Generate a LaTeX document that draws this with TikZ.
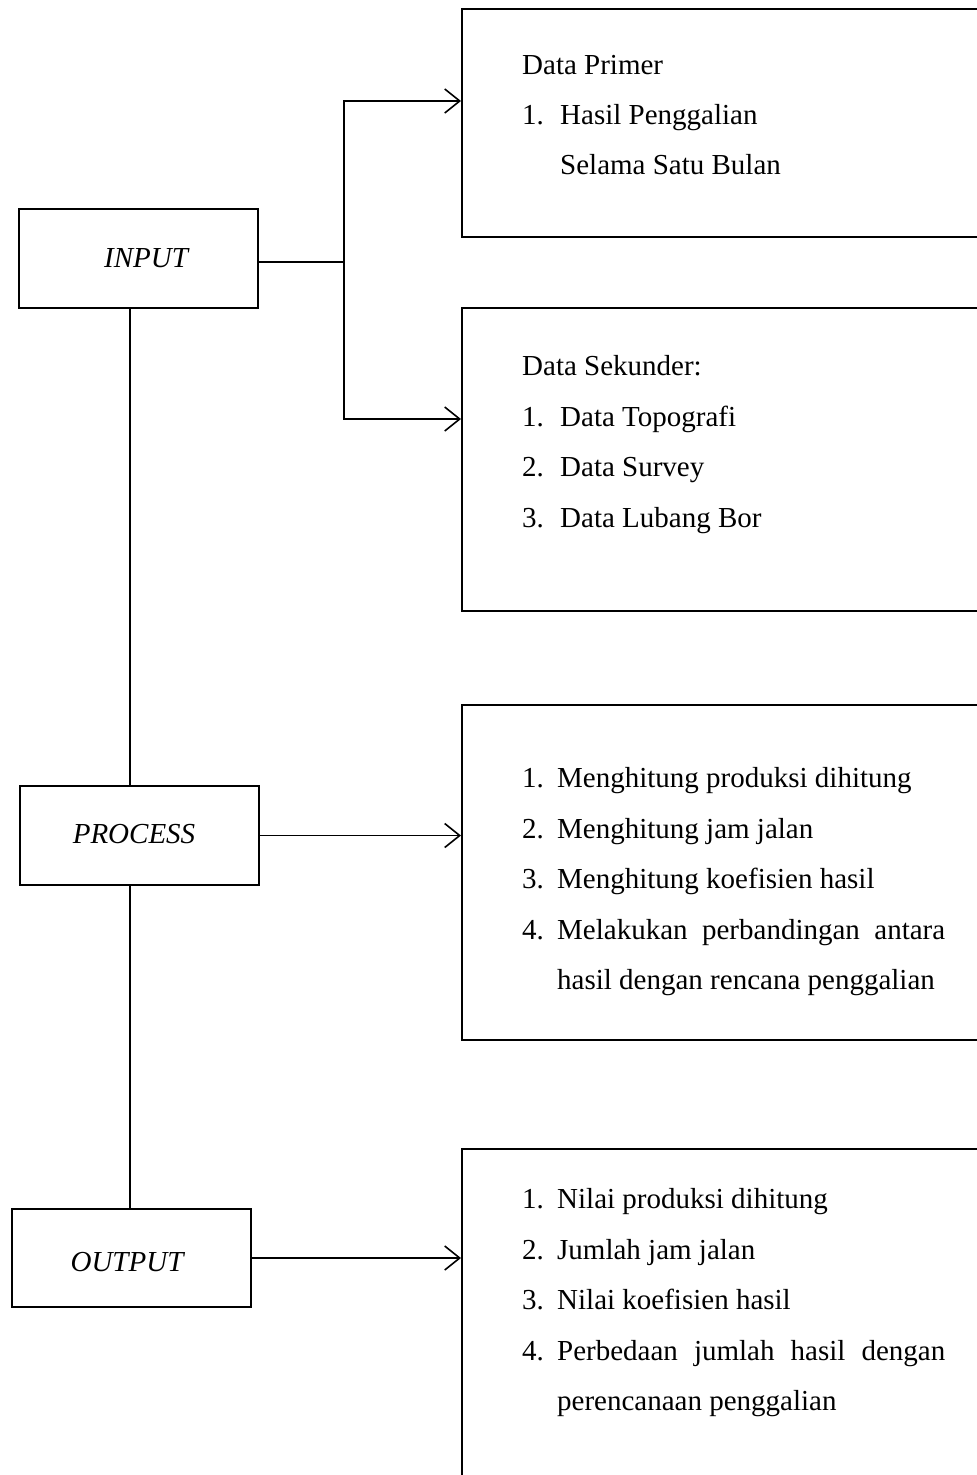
\documentclass[tikz,border=0pt]{standalone}
\usepackage{fontspec}
\setmainfont{Liberation Serif}
\usetikzlibrary{arrows.meta}
\begin{document}
\begin{tikzpicture}[x=1pt,y=-1pt,
  lbox/.style={draw, line width=2pt, rectangle, inner sep=0pt, anchor=north west},
  rbox/.style={draw, line width=2pt, rectangle, inner sep=0pt, anchor=north west, minimum width=600pt},
  txt/.style={anchor=base west, inner sep=0pt, font=\fontsize{29}{35}\selectfont},
  ltxt/.style={anchor=center, inner sep=0pt, font=\fontsize{29}{35}\selectfont\itshape},
  conn/.style={line width=1.6pt},
  arr/.style={conn, -{Straight Barb[length=15pt,width=24pt,line width=1.6pt]}}]
\useasboundingbox (0,0) rectangle (977,1475);
\clip (0,0) rectangle (977,1475);
% left boxes
\node[lbox, minimum width=239pt, minimum height=99pt] (inbox) at (18,208) {};
\node[lbox, minimum width=239pt, minimum height=99pt] (procbox) at (19,785) {};
\node[lbox, minimum width=239pt, minimum height=98pt] (outbox) at (11,1208) {};
\node[ltxt] (inlbl) at (146,258) {INPUT};
\node[ltxt] (proclbl) at (134,834) {PROCESS};
\node[ltxt] (outlbl) at (127,1262) {OUTPUT};
% right boxes
\node[rbox, minimum height=228pt] (b1) at (461,8) {};
\node[rbox, minimum height=303pt] (b2) at (461,307) {};
\node[rbox, minimum height=335pt] (b3) at (461,704) {};
\node[rbox, minimum height=400pt] (b4) at (461,1148) {};
% box 1 text
\node[txt] (t1a) at (522,74) {Data Primer};
\node[txt] (t1b) at (522,124) {1.};
\node[txt] (t1c) at (560,124) {Hasil Penggalian};
\node[txt] (t1d) at (560,174) {Selama Satu Bulan};
% box 2 text
\node[txt] (t2a) at (522,375) {Data Sekunder:};
\node[txt] (t2b) at (522,426) {1.};
\node[txt] (t2c) at (560,426) {Data Topografi};
\node[txt] (t2d) at (522,476) {2.};
\node[txt] (t2e) at (560,476) {Data Survey};
\node[txt] (t2f) at (522,527) {3.};
\node[txt] (t2g) at (560,527) {Data Lubang Bor};
% box 3 text
\node[txt] (t3a) at (522,787) {1.};
\node[txt] (t3b) at (557,787) {Menghitung produksi dihitung};
\node[txt] (t3c) at (522,838) {2.};
\node[txt] (t3d) at (557,838) {Menghitung jam jalan};
\node[txt] (t3e) at (522,888) {3.};
\node[txt] (t3f) at (557,888) {Menghitung koefisien hasil};
\node[txt] (t3g) at (522,939) {4.};
\node[txt] (t3h) at (557,939) {\hbox to 388pt{Melakukan\hfill perbandingan\hfill antara}};
\node[txt] (t3i) at (557,989) {hasil dengan rencana penggalian};
% box 4 text
\node[txt] (t4a) at (522,1208) {1.};
\node[txt] (t4b) at (557,1208) {Nilai produksi dihitung};
\node[txt] (t4c) at (522,1259) {2.};
\node[txt] (t4d) at (557,1259) {Jumlah jam jalan};
\node[txt] (t4e) at (522,1309) {3.};
\node[txt] (t4f) at (557,1309) {Nilai koefisien hasil};
\node[txt] (t4g) at (522,1360) {4.};
\node[txt] (t4h) at (557,1360) {\hbox to 388pt{Perbedaan\hfill jumlah\hfill hasil\hfill dengan}};
\node[txt] (t4i) at (557,1410) {perencanaan penggalian};
% connectors
\coordinate (j) at (344,262);
\coordinate (a1) at (461,101);
\coordinate (a2) at (461,419);
\coordinate (v) at (130,0);
\draw[conn] (inbox.east |- j) -- (j);
\draw[arr] (j) |- (a1);
\draw[arr] (j) |- (a2);
\draw[arr] (procbox.east) -- (procbox.east -| b3.west);
\draw[arr] (outbox.east) -- (outbox.east -| b4.west);
\draw[conn] (inbox.south -| v) -- (procbox.north -| v);
\draw[conn] (procbox.south -| v) -- (outbox.north -| v);
\end{tikzpicture}
\end{document}
